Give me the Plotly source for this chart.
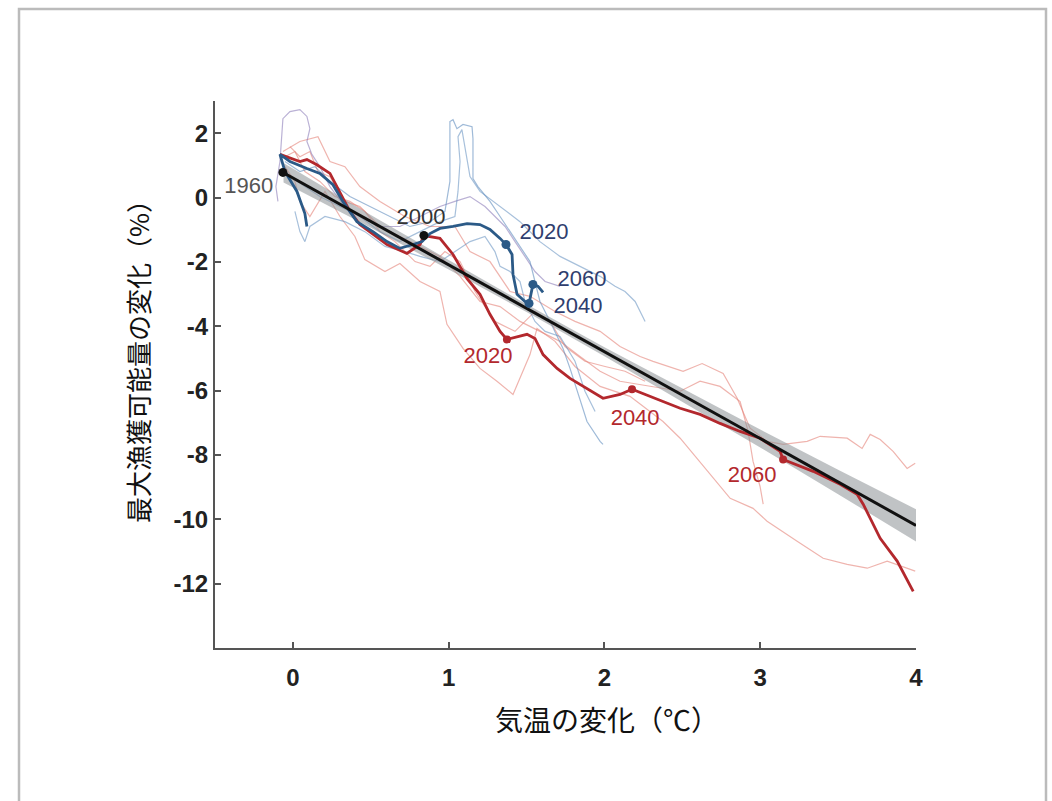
import plotly.graph_objects as go

# ---------------- data (temperature change degC, MSY change %) ----------------
# main (thick) red trajectory
red_x = [-0.083, 0.045, 0.09, 0.154, 0.238, 0.321, 0.366, 0.43, 0.514, 0.604, 0.732, 0.816, 0.841,
         0.944, 1.028, 1.118, 1.201, 1.265, 1.33, 1.374, 1.503, 1.554, 1.606, 1.696, 1.779, 1.888,
         1.991, 2.1, 2.177, 2.376, 2.486, 2.614, 2.742, 2.871, 2.999, 3.128, 3.147, 3.34, 3.513,
         3.622, 3.661, 3.77, 3.879, 3.982]
red_y = [1.34, 1.12, 1.18, 1.02, 0.75, -0.03, -0.43, -0.84, -1.15, -1.46, -1.74, -1.46, -1.18,
         -1.27, -1.77, -2.52, -3.01, -3.63, -4.16, -4.41, -4.25, -4.38, -4.88, -5.31, -5.62, -5.93,
         -6.24, -6.12, -5.96, -6.34, -6.55, -6.74, -7.02, -7.27, -7.48, -7.89, -8.14, -8.51, -8.91,
         -9.22, -9.53, -10.59, -11.30, -12.24]

# main (thick) blue trajectory
blue_x = [0.09, 0.077, 0.026, -0.051, -0.083, -0.019, 0.09, 0.173, 0.257, 0.321, 0.411, 0.514,
          0.604, 0.687, 0.771, 0.829, 0.88, 0.944, 1.028, 1.118, 1.201, 1.265, 1.33, 1.368, 1.407,
          1.413, 1.439, 1.49, 1.516, 1.529, 1.541, 1.574, 1.606]
blue_y = [-0.90, -0.50, 0.19, 0.81, 1.34, 1.12, 0.90, 0.75, 0.40, -0.12, -0.75, -1.06, -1.37,
          -1.58, -1.46, -1.37, -1.12, -0.96, -0.90, -0.81, -0.84, -0.99, -1.27, -1.46, -1.77,
          -2.39, -3.01, -3.23, -3.29, -2.98, -2.70, -2.76, -2.95]

# thin (ensemble) red lines
thin_red = [
    ([-0.064, 0.045, 0.161, 0.238, 0.334, 0.43, 0.559, 0.719, 0.88, 1.04, 1.137, 1.265, 1.394,
      1.522, 1.683, 1.811, 1.972, 2.1, 2.229, 2.312, 2.505, 2.627, 2.762, 2.852, 2.935, 3.044,
      3.147, 3.301, 3.385, 3.558, 3.654, 3.706, 3.77, 3.853, 3.943, 3.995],
     [1.43, 1.74, 1.89, 1.12, 0.96, 0.34, -0.12, -0.59, -0.90, -0.90, -1.68, -1.99, -2.92,
      -3.07, -3.54, -3.85, -4.16, -4.63, -4.94, -5.09, -5.40, -5.16, -5.47, -6.24, -7.17, -7.58,
      -7.67, -7.58, -7.42, -7.48, -7.80, -7.36, -7.52, -7.89, -8.42, -8.26]),
    ([-0.051, 0.013, 0.045, 0.109, 0.206, 0.302, 0.398, 0.462, 0.591, 0.687, 0.816, 0.944, 0.989,
      1.092, 1.201, 1.31, 1.413, 1.522, 1.567, 1.683, 1.811, 1.972, 2.164, 2.376, 2.486, 2.595,
      2.698, 2.807, 2.954, 3.044, 3.237, 3.404, 3.558, 3.687, 3.815, 3.943, 3.995],
     [0.96, 0.50, -0.12, -0.59, 0.19, -0.59, -1.21, -1.93, -2.30, -2.05, -2.61, -2.92, -3.94,
      -4.69, -5.31, -5.71, -6.12, -4.88, -4.07, -4.47, -5.25, -5.87, -6.18, -6.96, -7.48, -8.11,
      -8.73, -9.35, -9.66, -10.06, -10.68, -11.21, -11.40, -11.52, -11.30, -11.52, -11.61]),
    ([-0.019, 0.045, 0.109, 0.161, 0.238, 0.334, 0.43, 0.559, 0.687, 0.816, 0.944, 1.073, 1.201,
      1.33, 1.458, 1.586, 1.715, 1.843, 1.972, 2.1, 2.293, 2.486, 2.614, 2.742, 2.871, 2.922,
      2.954, 2.999, 3.019],
     [1.58, 1.27, 1.43, 0.81, 0.65, -0.12, -0.28, -0.90, -1.21, -1.52, -1.83, -2.45, -3.23,
      -3.39, -3.85, -4.16, -4.47, -4.94, -5.40, -5.71, -5.87, -6.02, -5.71, -5.87, -6.34, -7.27,
      -8.20, -8.98, -9.53]),
    ([-0.051, 0.013, 0.077, 0.173, 0.27, 0.366, 0.462, 0.559, 0.655, 0.784, 0.88, 0.976, 1.073,
      1.169, 1.297, 1.426, 1.554, 1.651, 1.747, 1.875, 2.004, 2.132, 2.261],
     [1.27, 1.43, 0.81, 0.50, 0.03, -0.12, -0.43, -1.06, -1.37, -1.99, -2.14, -1.68, -1.99,
      -2.92, -3.85, -4.16, -3.54, -3.85, -4.63, -5.09, -5.25, -5.40, -5.71]),
]

# thin (ensemble) blue lines
thin_blue = [
    ([-0.096, -0.109, -0.083, -0.064, -0.019, 0.045, 0.09, 0.109, 0.09, 0.122, 0.173, 0.238, 0.334,
      0.43, 0.559, 0.687, 0.816, 0.944, 1.04, 1.137, 1.233, 1.297, 1.362, 1.426, 1.49, 1.554,
      1.619, 1.715],
     [-0.12, 0.34, 1.12, 2.45, 2.67, 2.73, 2.52, 2.14, 1.74, 1.34, 0.96, 0.34, -0.28, -0.59,
      -0.90, -0.90, -0.59, -0.28, -0.12, 0.03, -0.28, -0.59, -0.90, -1.37, -1.83, -2.30, -2.61,
      -2.76]),
    ([-0.051, 0.045, 0.141, 0.238, 0.366, 0.495, 0.623, 0.751, 0.88, 0.976, 1.008, 1.008, 1.008,
      1.028, 1.053, 1.092, 1.15, 1.156, 1.156, 1.156, 1.188, 1.265, 1.33, 1.394, 1.458, 1.522,
      1.554, 1.586, 1.651, 1.715, 1.734, 1.779, 1.824, 1.888, 1.972, 1.991],
     [1.12, 0.81, 0.96, 0.50, 0.03, -0.28, -0.59, -0.90, -0.75, -0.43, 0.50, 1.74, 2.36, 2.42,
      2.14, 2.27, 2.20, 1.83, 1.12, 0.59, 0.34, -0.12, -0.59, -1.06, -1.52, -1.99, -2.61, -3.23,
      -3.85, -4.47, -4.69, -5.31, -6.02, -6.96, -7.58, -7.67]),
    ([-0.019, 0.077, 0.173, 0.302, 0.43, 0.559, 0.687, 0.816, 0.944, 1.04, 1.06, 1.073, 1.06,
      1.085, 1.111, 1.137, 1.201, 1.33, 1.458, 1.586, 1.715, 1.843, 1.972, 2.068, 2.132, 2.197,
      2.229, 2.261],
     [0.65, 0.34, 0.03, -0.28, -0.59, -1.06, -1.37, -1.06, -0.75, -0.59, 0.19, 1.12, 1.89, 2.11,
      1.43, 0.65, 0.19, -0.28, -0.75, -1.37, -1.83, -2.14, -2.45, -2.76, -2.92, -3.23, -3.54,
      -3.85]),
    ([0.013, 0.045, 0.077, 0.109, 0.206, 0.334, 0.462, 0.591, 0.719, 0.816, 0.944, 1.04, 1.137,
      1.233, 1.297, 1.33, 1.394, 1.458, 1.49, 1.554, 1.619, 1.715, 1.811, 1.875, 1.94],
     [-0.43, -1.06, -1.37, -0.90, -0.59, -0.75, -1.06, -1.52, -1.68, -1.83, -1.99, -1.68, -1.37,
      -1.21, -1.68, -2.14, -2.30, -2.61, -3.23, -3.85, -4.16, -4.32, -5.09, -6.02, -6.65]),
]
thin_blue_colors = ["rgba(140,125,185,0.6)", "rgba(95,140,190,0.6)",
                    "rgba(95,140,190,0.55)", "rgba(95,140,190,0.55)"]

# regression line and confidence band
fit_x = [-0.06, 4.0]
fit_y = [0.77, -10.19]
band_x = [-0.06, 0.5, 1.0, 1.5, 2.0, 2.5, 3.0, 3.5, 4.0]
band_upper = [1.07, -0.54, -1.94, -3.32, -4.65, -5.94, -7.21, -8.46, -9.69]
band_lower = [0.47, -0.94, -2.24, -3.56, -4.93, -6.34, -7.77, -9.22, -10.69]

# year markers
black_years = ["1960", "2000"]
black_pts_x = [-0.064, 0.841]
black_pts_y = [0.78, -1.18]
black_lab_x = [-0.283, 0.822]
black_lab_y = [0.31, -0.65]

red_years = ["2020", "2040", "2060"]
red_pts_x = [1.374, 2.177, 3.147]
red_pts_y = [-4.41, -5.96, -8.14]
red_lab_x = [1.252, 2.197, 2.948]
red_lab_y = [-4.97, -6.90, -8.66]

blue_years = ["2020", "2040", "2060"]
blue_pts_x = [1.368, 1.516, 1.541]
blue_pts_y = [-1.46, -3.29, -2.70]
blue_lab_x = [1.612, 1.83, 1.856]
blue_lab_y = [-1.12, -3.42, -2.58]

x_ticks = [0, 1, 2, 3, 4]
y_ticks = [2, 0, -2, -4, -6, -8, -10, -12]

x_title = "気温の変化（℃）"
y_title = "最大漁獲可能量の変化（%）"

RED = "#b3282d"
BLUE = "#2b5a87"
BLUE_TXT = "#2f3e6e"

fig = go.Figure()

for xs, ys in thin_red:
    fig.add_trace(go.Scatter(x=xs, y=ys, mode="lines",
                             line=dict(color="rgba(228,130,120,0.6)", width=1.2)))
for (xs, ys), c in zip(thin_blue, thin_blue_colors):
    fig.add_trace(go.Scatter(x=xs, y=ys, mode="lines", line=dict(color=c, width=1.2)))

# confidence band
fig.add_trace(go.Scatter(x=band_x, y=band_upper, mode="lines", line=dict(width=0, color="rgba(0,0,0,0)")))
fig.add_trace(go.Scatter(x=band_x, y=band_lower, mode="lines", line=dict(width=0, color="rgba(0,0,0,0)"),
                         fill="tonexty", fillcolor="rgba(140,145,150,0.55)"))

fig.add_trace(go.Scatter(x=red_x, y=red_y, mode="lines", line=dict(color=RED, width=2.8)))
fig.add_trace(go.Scatter(x=blue_x, y=blue_y, mode="lines", line=dict(color=BLUE, width=2.8)))

fig.add_trace(go.Scatter(x=fit_x, y=fit_y, mode="lines", line=dict(color="#111111", width=3)))

fig.add_trace(go.Scatter(x=red_pts_x, y=red_pts_y, mode="markers", marker=dict(color=RED, size=8)))
fig.add_trace(go.Scatter(x=blue_pts_x, y=blue_pts_y, mode="markers", marker=dict(color=BLUE, size=9)))
fig.add_trace(go.Scatter(x=black_pts_x, y=black_pts_y, mode="markers", marker=dict(color="#111111", size=9)))

lab_font = "Liberation Sans, Arial, sans-serif"
fig.add_trace(go.Scatter(x=black_lab_x, y=black_lab_y, mode="text", text=black_years,
                         textfont=dict(family=lab_font, size=22, color=["#555555", "#333333"])))
fig.add_trace(go.Scatter(x=red_lab_x, y=red_lab_y, mode="text", text=red_years,
                         textfont=dict(family=lab_font, size=22, color=RED)))
fig.add_trace(go.Scatter(x=blue_lab_x, y=blue_lab_y, mode="text", text=blue_years,
                         textfont=dict(family=lab_font, size=22, color=BLUE_TXT)))

tick_font = dict(family="Liberation Sans Narrow, Arial Narrow, Liberation Sans, sans-serif",
                 size=24, color="#222222", weight="bold")

fig.update_layout(
    width=1052, height=801,
    margin=dict(l=215, r=136, t=101, b=153),
    paper_bgcolor="white", plot_bgcolor="white",
    showlegend=False,
    xaxis=dict(range=[-0.5, 4.0], tickvals=x_ticks, ticktext=[str(v) for v in x_ticks],
               showgrid=False, zeroline=False, showline=True, linecolor="#555555", linewidth=2,
               ticks="inside", ticklen=6, tickwidth=1.5, tickcolor="#555555",
               tickfont=tick_font, ticklabelstandoff=7),
    yaxis=dict(range=[-14, 3], tickvals=y_ticks, ticktext=[str(v) for v in y_ticks],
               showgrid=False, zeroline=False, showline=True, linecolor="#555555", linewidth=2,
               ticks="inside", ticklen=6, tickwidth=1.5, tickcolor="#555555",
               tickfont=tick_font, ticklabelstandoff=0),
    font=dict(family="Noto Sans CJK JP, sans-serif"),
)

fig.add_annotation(text=x_title, xref="paper", yref="paper",
                   x=(607 - 215) / 701, y=(648 - 719) / 547, xanchor="center", yanchor="middle",
                   showarrow=False,
                   font=dict(family="Noto Sans CJK JP", size=28, color="#111111"))
fig.add_annotation(text=y_title, xref="paper", yref="paper", textangle=-90,
                   x=(137 - 215) / 701, y=(648 - 355) / 547, xanchor="center", yanchor="middle",
                   showarrow=False,
                   font=dict(family="Noto Sans CJK JP", size=26, color="#111111"))

# outer frame
fig.add_shape(type="rect", xref="paper", yref="paper",
              x0=(19 - 215) / 701, x1=(1046 - 215) / 701,
              y0=(648 - 815) / 547, y1=(648 - 9) / 547,
              line=dict(color="#bbbbbb", width=2.5), layer="below")

fig.write_html("out.html", config={"displayModeBar": False},
               post_script="document.body.style.margin='0';")
